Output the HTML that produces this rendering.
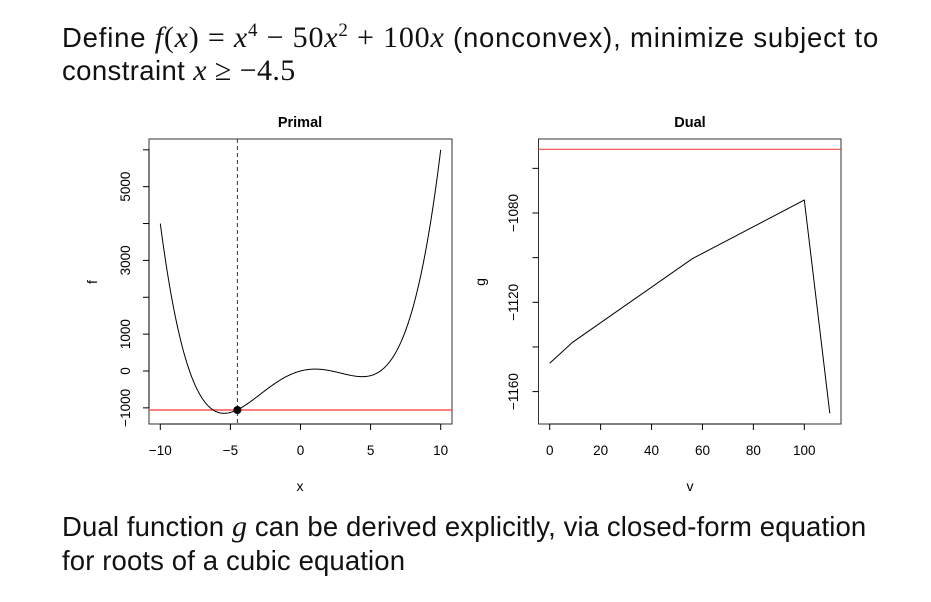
<!DOCTYPE html>
<html><head><meta charset="utf-8"><style>
html,body{margin:0;padding:0;background:#fff;width:931px;height:602px;overflow:hidden;position:relative;font-family:"Liberation Sans",sans-serif;}
.t{position:absolute;left:62px;font-size:27.5px;color:#111;white-space:nowrap;}
.m{font-family:"Liberation Serif",serif;font-size:30px;}
.i{font-style:italic;}
svg{position:absolute;left:0;top:0;}
</style></head><body>
<div class="t" style="top:20px;letter-spacing:0.8px">Define <span class="m"><span class="i">f</span>(<span class="i">x</span>) = <span class="i">x</span><sup style="font-size:19px">4</sup> − 50<span class="i">x</span><sup style="font-size:19px">2</sup> + 100<span class="i">x</span></span> (nonconvex), minimize subject to</div>
<div class="t" style="top:54px;letter-spacing:0.4px">constraint <span class="m"><span class="i">x</span> ≥ −4.5</span></div>
<div class="t" style="top:510px;letter-spacing:0.13px">Dual function <span class="m i">g</span> can be derived explicitly, via closed-form equation</div>
<div class="t" style="top:545px;letter-spacing:0.13px">for roots of a cubic equation</div>
<svg width="931" height="602" id="s" font-family="Liberation Sans, sans-serif" font-size="13.5">
<text x="300" y="127" text-anchor="middle" font-weight="bold" font-size="14.5">Primal</text>
<text x="690" y="127" text-anchor="middle" font-weight="bold" font-size="14.5">Dual</text>
<rect x="149" y="139" width="303" height="285" fill="none" stroke="#333" stroke-width="1"/>
<rect x="538.5" y="139" width="302.5" height="285" fill="none" stroke="#333" stroke-width="1"/>
<line x1="149" y1="410" x2="452" y2="410" stroke="#f55" stroke-width="1.5"/>
<line x1="237.4" y1="139" x2="237.4" y2="424" stroke="#333" stroke-dasharray="4,3"/>
<path id="pc" fill="none" stroke="#000" stroke-width="1"/>
<circle cx="237.4" cy="410" r="4" fill="#000"/>
<line x1="538.5" y1="149.3" x2="841" y2="149.3" stroke="#e33" stroke-width="1"/>
<polyline points="549.7,363.3 572.6,342.3 692.3,258.7 804.3,200 829.8,413.3" fill="none" stroke="#000"/>
<g id="ax" stroke="#000"></g>
<text x="300" y="491" text-anchor="middle" font-size="14">x</text>
<text x="690" y="491" text-anchor="middle" font-size="14">v</text>
<text transform="translate(97,282) rotate(-90)" text-anchor="middle" font-size="14">f</text>
<text transform="translate(485,282) rotate(-90)" text-anchor="middle" font-size="14">g</text>
</svg>
<script>
var s=document.getElementById('s'),ax=document.getElementById('ax');
var d='';for(var i=0;i<=400;i++){var x=-10+i*0.05;var f=x*x*x*x-50*x*x+100*x;d+=(i?'L':'M')+(300.5+14.02*x).toFixed(2)+','+(371-f*0.036867).toFixed(2);}
document.getElementById('pc').setAttribute('d',d);
function ln(a,b,c,e){var l=document.createElementNS('http://www.w3.org/2000/svg','line');l.setAttribute('x1',a);l.setAttribute('y1',b);l.setAttribute('x2',c);l.setAttribute('y2',e);ax.appendChild(l);}
function tx(x,y,t,r){var l=document.createElementNS('http://www.w3.org/2000/svg','text');l.textContent=t;l.setAttribute('text-anchor','middle');l.setAttribute('stroke','none');if(r){l.setAttribute('transform','translate('+x+','+y+') rotate(-90)');}else{l.setAttribute('x',x);l.setAttribute('y',y);}s.appendChild(l);}
[-10,-5,0,5,10].forEach(function(v){var p=300.5+14.02*v;ln(p,424,p,430);tx(p,455,v<0?'\u2212'+(-v):''+v);});
ln(160.3,424,440.7,424);
for(var f=-1000;f<=6000;f+=1000){var p=371-f*0.036867;ln(143,p,149,p);}
ln(149,149.3,149,408);
[[-1000,'\u22121000'],[0,'0'],[1000,'1000'],[3000,'3000'],[5000,'5000']].forEach(function(a){tx(130,371-a[0]*0.036867,a[1],1);});
[0,20,40,60,80,100].forEach(function(v){var p=549.7+2.546*v;ln(p,424,p,430);tx(p,455,''+v);});
ln(549.7,424,804.3,424);
for(var g=-1060;g>=-1160;g-=20){var p=213+(-1080-g)*2.2325;ln(532.5,p,538.5,p);}
[[-1080,'\u22121080'],[-1120,'\u22121120'],[-1160,'\u22121160']].forEach(function(a){tx(518,213+(-1080-a[0])*2.2325,a[1],1);});
</script>
</body></html>
